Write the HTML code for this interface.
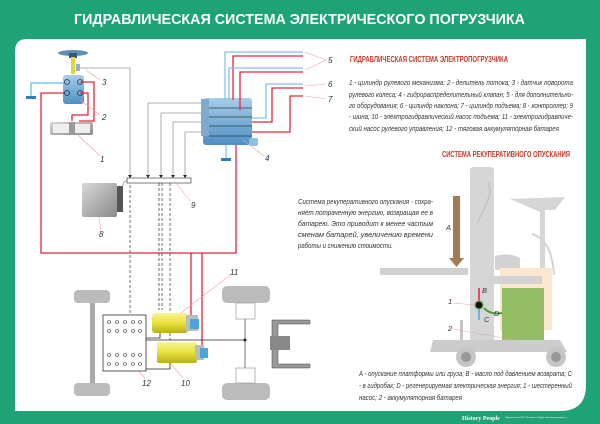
<!DOCTYPE html>
<html><head><meta charset="utf-8"><style>
body{margin:0;width:600px;height:424px;overflow:hidden;background:#1ea276;font-family:"Liberation Sans",sans-serif}
svg{display:block}
.t{font-family:"Liberation Sans",sans-serif;font-style:italic;fill:#333}
</style></head><body>
<svg width="600" height="424" viewBox="0 0 600 424" xmlns="http://www.w3.org/2000/svg">
<defs>
<linearGradient id="yel" x1="0" y1="0" x2="0" y2="1"><stop offset="0" stop-color="#f7f59a"/><stop offset="0.5" stop-color="#e8e23a"/><stop offset="1" stop-color="#b8b020"/></linearGradient>
<linearGradient id="gr" x1="0" y1="0" x2="1" y2="1"><stop offset="0" stop-color="#d8d8d8"/><stop offset="1" stop-color="#8a8a8a"/></linearGradient>
<linearGradient id="bl" x1="0" y1="0" x2="0" y2="1"><stop offset="0" stop-color="#a9cde8"/><stop offset="1" stop-color="#4f8fc4"/></linearGradient>
</defs>
<rect x="0" y="0" width="600" height="424" fill="#1ea276"/>
<path d="M27 39 H586 V411 H15 V51 Q15 39 27 39Z" fill="#fff"/>
<path d="M560 411 H586 V385 Q586 411 560 411Z" fill="#1ea276"/>
<text x="74" y="24" textLength="451" lengthAdjust="spacingAndGlyphs" fill="#fff" font-size="15" font-weight="bold">ГИДРАВЛИЧЕСКАЯ СИСТЕМА ЭЛЕКТРИЧЕСКОГО ПОГРУЗЧИКА</text>

<g>
<ellipse cx="73" cy="53" rx="15" ry="3" fill="#5e8fb6"/>
<rect x="69" y="53" width="8" height="5" fill="#2c5a80"/>
<rect x="71" y="57" width="4" height="17" fill="#e1d63a"/>
<rect x="76" y="64" width="4" height="7" fill="#8cb3d6"/>
<rect x="63" y="75" width="21" height="29" rx="3" fill="url(#bl)"/>
<circle cx="67" cy="82" r="2.5" fill="none" stroke="#235" stroke-width="0.8"/><circle cx="80" cy="82" r="2.5" fill="none" stroke="#235" stroke-width="0.8"/>
<circle cx="67" cy="93" r="2.5" fill="none" stroke="#235" stroke-width="0.8"/><circle cx="80" cy="93" r="2.5" fill="none" stroke="#235" stroke-width="0.8"/>
</g>
<polyline points="63,83 31,83 31,96" fill="none" stroke="#7ec6ea" stroke-width="1.5"/>
<path d="M26 96 H36 V99 H26Z" fill="#2c7fb8"/>
<polyline points="80,82 94,82 94,121 79,121" fill="none" stroke="#e3263b" stroke-width="1.3"/>
<polyline points="80,93 88,93 88,115 72,115 72,121" fill="none" stroke="#e3263b" stroke-width="1.3"/>
<rect x="50" y="122" width="43" height="13" fill="url(#gr)" rx="2"/>
<rect x="53" y="124" width="37" height="9" fill="#eee"/>
<rect x="69" y="122" width="6" height="13" fill="#999"/>
<polyline points="64,93 41,93 41,253 236,253 236,143" fill="none" stroke="#e3263b" stroke-width="1.3"/>
<line x1="191" y1="253" x2="191" y2="324" stroke="#e3263b" stroke-width="1.3"/>
<line x1="202" y1="253" x2="202" y2="350" stroke="#e3263b" stroke-width="1.3"/>
<g fill="none" stroke="#999" stroke-width="0.8">
<polyline points="80,68 130,68 130,178"/>
<polyline points="205,103 148,103 148,178"/>
<polyline points="205,113 161,113 161,178"/>
<polyline points="205,122 173,122 173,178"/>
<polyline points="205,132 185,132 185,178"/>
<polyline points="120,195 124,182 127,180"/>
</g>
<rect x="127" y="178" width="64" height="5" fill="#fff" stroke="#444" stroke-width="0.7"/>
<g fill="#222"><path d="M128 175h4l-2 3z"/><path d="M146 175h4l-2 3z"/><path d="M159 175h4l-2 3z"/><path d="M171 175h4l-2 3z"/><path d="M183 175h4l-2 3z"/></g>
<rect x="203" y="98" width="49" height="47" rx="3" fill="url(#bl)"/>
<rect x="201" y="99" width="8" height="37" fill="#7fa9cf"/>
<rect x="249" y="138" width="9" height="8" rx="2" fill="#8fc0e0"/>
<g fill="none" stroke="#244" stroke-width="0.7"><line x1="209" y1="108" x2="252" y2="108"/><line x1="209" y1="117" x2="252" y2="117"/><line x1="209" y1="126" x2="252" y2="126"/><line x1="209" y1="136" x2="252" y2="136"/></g>
<polyline points="226,145 226,158" stroke="#7ec6ea" stroke-width="1.3" fill="none"/>
<path d="M221 158 H231 V161 H221Z" fill="#2c7fb8"/>
<g fill="none" stroke-width="1.3">
<polyline points="225,100 225,52 303,52" stroke="#7ec6ea"/>
<polyline points="233,100 233,56 303,56" stroke="#e3263b"/>
<polyline points="229,100 229,68 303,68" stroke="#7ec6ea"/>
<polyline points="240,110 240,72 303,72" stroke="#e3263b"/>
<polyline points="252,118 266,118 266,84 303,84" stroke="#7ec6ea"/>
<polyline points="252,122 272,122 272,88 303,88" stroke="#e3263b"/>
<polyline points="252,132 290,132 290,96 303,96" stroke="#e3263b"/>
</g>
<g stroke="#f0a0a8" stroke-width="0.6" fill="none">
<polyline points="305,52 326,60 305,70"/><line x1="305" y1="86" x2="326" y2="84"/><line x1="305" y1="96" x2="326" y2="99"/>
<line x1="86" y1="70" x2="100" y2="80"/><line x1="80" y1="100" x2="100" y2="115"/><line x1="78" y1="135" x2="100" y2="156"/>
<line x1="243" y1="140" x2="264" y2="156"/><line x1="176" y1="183" x2="191" y2="202"/><line x1="98" y1="212" x2="101" y2="230"/>
<line x1="230" y1="275" x2="172" y2="320"/><line x1="165" y1="357" x2="183" y2="378"/><line x1="130" y1="362" x2="145" y2="378"/>
</g>
<g class="t" font-size="8">
<text x="328" y="63">5</text><text x="328" y="87">6</text><text x="328" y="102">7</text>
<text x="102" y="85">3</text><text x="102" y="120">2</text><text x="100" y="162">1</text>
<text x="265" y="161">4</text><text x="191" y="208">9</text><text x="99" y="237">8</text>
<text x="230" y="275">11</text><text x="181" y="386">10</text><text x="142" y="386">12</text>
</g>
<rect x="82" y="183" width="35" height="34" rx="2" fill="url(#gr)"/>
<rect x="117" y="186" width="6" height="26" fill="#555"/>
<g stroke="#444" stroke-width="0.8" stroke-dasharray="3,2" fill="none">
<line x1="130" y1="185" x2="130" y2="315"/><line x1="159" y1="183" x2="159" y2="310"/><line x1="162" y1="183" x2="162" y2="310"/><line x1="170" y1="183" x2="170" y2="340"/>
</g>
<rect x="90" y="297" width="5" height="93" fill="#aaa"/>
<rect x="74" y="290" width="36" height="13" rx="4" fill="#bbb"/>
<rect x="74" y="383" width="36" height="13" rx="4" fill="#bbb"/>
<rect x="222" y="286" width="48" height="17" rx="5" fill="#bbb"/>
<rect x="222" y="383" width="48" height="17" rx="5" fill="#bbb"/>
<rect x="236" y="303" width="19" height="16" fill="#fff" stroke="#999" stroke-width="0.7"/>
<rect x="236" y="368" width="19" height="15" fill="#fff" stroke="#999" stroke-width="0.7"/>
<line x1="245" y1="319" x2="245" y2="368" stroke="#777" stroke-width="1"/>
<line x1="146" y1="340" x2="245" y2="340" stroke="#222" stroke-width="0.8"/>
<circle cx="245" cy="340" r="1.5" fill="#222"/>
<path d="M272 320 H310 V324 H278 V364 H310 V368 H272Z" fill="#999" stroke="#444" stroke-width="0.5"/>
<rect x="270" y="336" width="20" height="14" fill="#888"/>
<rect x="103" y="315" width="43" height="56" fill="#fff" stroke="#333" stroke-width="0.8"/>
<g fill="none" stroke="#333" stroke-width="0.6">
<circle cx="109" cy="322" r="1.5"/><circle cx="117" cy="322" r="1.5"/><circle cx="125" cy="322" r="1.5"/><circle cx="133" cy="322" r="1.5"/><circle cx="140" cy="322" r="1.5"/>
<circle cx="109" cy="331" r="1.5"/><circle cx="117" cy="331" r="1.5"/><circle cx="125" cy="331" r="1.5"/><circle cx="133" cy="331" r="1.5"/><circle cx="140" cy="331" r="1.5"/>
<circle cx="109" cy="355" r="1.5"/><circle cx="117" cy="355" r="1.5"/><circle cx="125" cy="355" r="1.5"/><circle cx="133" cy="355" r="1.5"/><circle cx="140" cy="355" r="1.5"/>
<circle cx="109" cy="364" r="1.5"/><circle cx="117" cy="364" r="1.5"/><circle cx="125" cy="364" r="1.5"/><circle cx="133" cy="364" r="1.5"/><circle cx="140" cy="364" r="1.5"/>
</g>
<polyline points="146,338 160,338 160,333" fill="none" stroke="#222" stroke-width="0.8"/>
<polyline points="146,369 170,369 170,363" fill="none" stroke="#222" stroke-width="0.8"/>
<rect x="152" y="313" width="36" height="20" rx="3" fill="url(#yel)"/>
<rect x="186" y="315" width="12" height="16" fill="#bbb"/>
<rect x="190" y="319" width="9" height="10" fill="#4aa6d8"/>
<rect x="157" y="342" width="40" height="21" rx="2" fill="url(#yel)"/>
<rect x="195" y="345" width="9" height="15" fill="#bbb"/>
<rect x="200" y="348" width="8" height="10" fill="#4aa6d8"/>

<text x="350" y="62" textLength="158" lengthAdjust="spacingAndGlyphs" fill="#c0392b" font-size="8" font-weight="bold">ГИДРАВЛИЧЕСКАЯ СИСТЕМА ЭЛЕКТРОПОГРУЗЧИКА</text>
<g class="t" font-size="7" lengthAdjust="spacingAndGlyphs">
<text x="349" y="85" textLength="224" lengthAdjust="spacingAndGlyphs">1 - цилиндр рулевого механизма; 2 - делитель потока; 3 - датчик поворота</text>
<text x="349" y="97" textLength="224" lengthAdjust="spacingAndGlyphs">рулевого колеса; 4 - гидрораспределительный клапан; 5 - для дополнительно-</text>
<text x="349" y="108" textLength="224" lengthAdjust="spacingAndGlyphs">го оборудования; 6 - цилиндр наклона; 7 - цилиндр подъема; 8 - контроллер; 9</text>
<text x="349" y="119" textLength="224" lengthAdjust="spacingAndGlyphs">- шина; 10 - электрогидравлический насос подъема; 11 - электрогидравличе-</text>
<text x="349" y="131" textLength="210" lengthAdjust="spacingAndGlyphs">ский насос рулевого управления; 12 - тяговая аккумуляторная батарея</text>
</g>
<text x="442" y="157" textLength="128" lengthAdjust="spacingAndGlyphs" fill="#c0392b" font-size="8" font-weight="bold">СИСТЕМА РЕКУПЕРАТИВНОГО ОПУСКАНИЯ</text>
<g class="t" font-size="7">
<text x="298" y="204" textLength="135" lengthAdjust="spacingAndGlyphs">Система рекуперативного опускания - сохра-</text>
<text x="298" y="215" textLength="135" lengthAdjust="spacingAndGlyphs">няет потраченную энергию, возвращая ее в</text>
<text x="298" y="226" textLength="135" lengthAdjust="spacingAndGlyphs">батарею. Это приводит к менее частым</text>
<text x="298" y="237" textLength="135" lengthAdjust="spacingAndGlyphs">сменам батарей, увеличению времени</text>
<text x="298" y="248" textLength="95" lengthAdjust="spacingAndGlyphs">работы и снижению стоимости.</text>
<text x="359" y="376" textLength="213" lengthAdjust="spacingAndGlyphs">A - опускание платформы или груза; B - масло под давлением возврата; C</text>
<text x="359" y="388" textLength="213" lengthAdjust="spacingAndGlyphs">- в гидробак; D - регенерируемая электрическая энергия; 1 - шестеренный</text>
<text x="359" y="400" textLength="103" lengthAdjust="spacingAndGlyphs">насос; 2 - аккумуляторная батарея</text>
</g>

<g opacity="0.85">
<path d="M380 268 H468 V275 H380Z" fill="#c8c8c8"/>
<rect x="470" y="167" width="24" height="180" rx="3" fill="#d0d0d0"/>
<path d="M488 182 Q492 190 488 200 L478 222" fill="none" stroke="#bbb" stroke-width="2"/>
<path d="M510 199 L565 197 L555 210 L545 210 L545 270 L540 270 L540 212 Z" fill="#cfcfcf"/>
<path d="M532 234 Q552 240 554 275" fill="none" stroke="#ccc" stroke-width="2"/>
<path d="M495 256 Q510 252 520 258 L520 270 L495 270Z" fill="#ccc"/>
<path d="M500 268 H552 V330 H500Z" fill="#fbe3c8"/>
<rect x="487" y="276" width="55" height="8" fill="#ccc"/>
<rect x="502" y="288" width="42" height="52" fill="#7fb24a"/>
<path d="M433 340 H560 L567 352 H430 Z" fill="#c4c4c4"/>
<circle cx="466" cy="357" r="10" fill="#bbb"/><circle cx="466" cy="357" r="5" fill="#888"/>
<circle cx="556" cy="357" r="10" fill="#bbb"/><circle cx="556" cy="357" r="5" fill="#888"/>
<rect x="460" y="320" width="3" height="20" fill="#bbb"/>
</g>
<rect x="453" y="196" width="7" height="62" fill="#a37b55"/>
<path d="M449 258 H464 L456.5 267Z" fill="#a37b55"/>
<line x1="479" y1="288" x2="479" y2="301" stroke="#e3263b" stroke-width="1.5"/>
<line x1="479" y1="309" x2="479" y2="320" stroke="#4aa6d8" stroke-width="1.5"/>
<path d="M484 308 Q490 315 502 313" fill="none" stroke="#4a9a30" stroke-width="2"/>
<circle cx="479" cy="305" r="4" fill="#111" stroke="#6ab04c" stroke-width="1.2"/>
<g stroke="#f0a0a8" stroke-width="0.5"><line x1="453" y1="303" x2="475" y2="305"/><line x1="453" y1="329" x2="515" y2="340"/></g>
<g class="t" font-size="7.5"><text x="446" y="230">A</text><text x="482" y="293">B</text><text x="484" y="322">C</text><text x="494" y="316">D</text><text x="448" y="304">1</text><text x="448" y="331">2</text></g>
<text x="462" y="420" fill="#fff" font-size="6" font-family="Liberation Serif,serif" font-weight="bold">History People</text>
<text x="505" y="418" fill="#fff" font-size="2.2">Издательство ООО «История и Люди»  www.history-people.ru</text>
</svg>
</body></html>
